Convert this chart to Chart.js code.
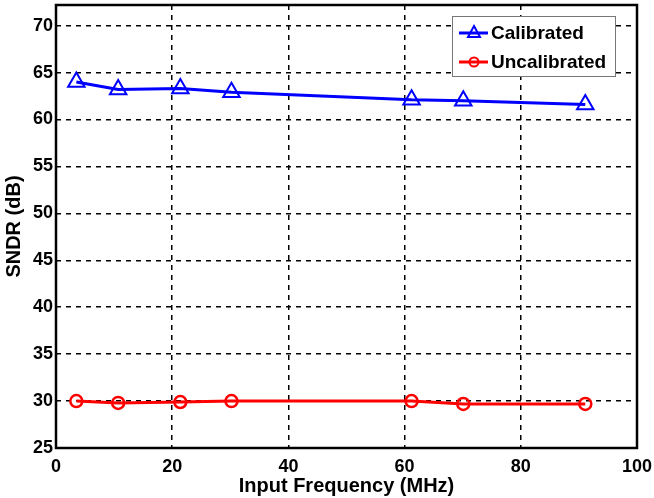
<!DOCTYPE html>
<html>
<head>
<meta charset="utf-8">
<script src="https://cdn.jsdelivr.net/npm/chart.js@4/dist/chart.umd.min.js"></script>
<style>
  html, body { margin: 0; padding: 0; background: #fff; }
  #wrap { width: 654px; height: 498px; }
</style>
</head>
<body>
<div id="wrap"><canvas id="sndr-chart" width="654" height="498"></canvas></div>
<script>
// SNDR vs input frequency, calibrated vs uncalibrated

const freqCal   = [3.5, 10.7, 21.4, 30.2, 61.2, 70.1, 91.1];
const sndrCal   = [64.0, 63.2, 63.3, 62.9, 62.1, 62.0, 61.6];
const freqUncal = [3.5, 10.7, 21.4, 30.2, 61.2, 70.1, 91.1];
const sndrUncal = [30.0, 29.8, 29.9, 30.0, 30.0, 29.7, 29.7];

const xTicks = [0, 20, 40, 60, 80, 100];
const yTicks = [25, 30, 35, 40, 45, 50, 55, 60, 65, 70];

const FONT = "'Liberation Sans', Arial, Helvetica, sans-serif";

// black frame round the plot area (matlab style box)
const boxPlugin = {
  id: "box",
  afterDraw(chart) {
    const { ctx, chartArea: a } = chart;
    ctx.save();
    ctx.strokeStyle = "#000";
    ctx.lineWidth = 2.5;
    ctx.strokeRect(a.left, a.top, a.right - a.left, a.bottom - a.top);
    ctx.restore();
  }
};

// legend drawn inside the axes, top right
const legendPlugin = {
  id: "innerLegend",
  afterDraw(chart) {
    const ctx = chart.ctx;
    const x0 = 452, y0 = 16, w = 163, h = 60;
    ctx.save();
    ctx.fillStyle = "#fff";
    ctx.fillRect(x0, y0, w, h);
    ctx.strokeStyle = "#777";
    ctx.lineWidth = 1;
    ctx.strokeRect(x0 + 0.5, y0 + 0.5, w, h);

    chart.data.datasets.forEach((ds, i) => {
      const y = y0 + 17 + i * 29;
      ctx.strokeStyle = ds.borderColor;
      ctx.lineWidth = 3;
      ctx.beginPath();
      ctx.moveTo(x0 + 7, y);
      ctx.lineTo(x0 + 36, y);
      ctx.stroke();
      ctx.lineWidth = 2;
      ctx.beginPath();
      if (ds.pointStyle === "triangle") {
        ctx.moveTo(x0 + 22, y - 7);
        ctx.lineTo(x0 + 28, y + 4);
        ctx.lineTo(x0 + 16, y + 4);
        ctx.closePath();
      } else {
        ctx.arc(x0 + 22, y, 4.5, 0, Math.PI * 2);
      }
      ctx.stroke();
      ctx.fillStyle = "#000";
      ctx.font = "bold 19px " + FONT;
      ctx.textBaseline = "middle";
      ctx.fillText(ds.label, x0 + 39, y + 1);
    });
    ctx.restore();
  }
};

const ctx = document.getElementById("sndr-chart").getContext("2d");
const chart = new Chart(ctx, {
  type: "line",
  data: {
    datasets: [
      {
        label: "Calibrated",
        data: freqCal.map((f, i) => ({ x: f, y: sndrCal[i] })),
        borderColor: "#0000ff",
        backgroundColor: "rgba(0,0,0,0)",
        borderWidth: 3,
        pointStyle: "triangle",
        pointRadius: 9.5,
        pointBorderWidth: 2,
        tension: 0
      },
      {
        label: "Uncalibrated",
        data: freqUncal.map((f, i) => ({ x: f, y: sndrUncal[i] })),
        borderColor: "#ff0000",
        backgroundColor: "rgba(0,0,0,0)",
        borderWidth: 3,
        pointStyle: "circle",
        pointRadius: 6,
        pointBorderWidth: 2.5,
        tension: 0
      }
    ]
  },
  options: {
    responsive: false,
    animation: false,
    layout: { autoPadding: false, padding: { top: 5, right: 17, left: 0, bottom: 0 } },
    scales: {
      x: {
        type: "linear",
        min: 0,
        max: 100,
        afterBuildTicks: s => { s.ticks = xTicks.map(v => ({ value: v })); },
        afterFit: s => { s.height = 50; s.paddingLeft = 0; s.paddingRight = 0; },
        grid: { color: "#000", lineWidth: 1.5, drawTicks: false },
        border: { display: false, dash: [5, 5] },
        ticks: {
          color: "#000",
          padding: 8,
          maxRotation: 0,
          font: { family: FONT, size: 18, weight: "bold" }
        },
        title: {
          display: true,
          text: "Input Frequency (MHz)",
          color: "#000",
          padding: { top: 0, bottom: 0 },
          font: { family: FONT, size: 20, weight: "bold" }
        }
      },
      y: {
        type: "linear",
        min: 25,
        max: 72.2,
        afterBuildTicks: s => { s.ticks = yTicks.map(v => ({ value: v })); },
        afterFit: s => { s.width = 56; s.paddingTop = 0; s.paddingBottom = 0; },
        grid: { color: "#000", lineWidth: 1.5, drawTicks: false },
        border: { display: false, dash: [5, 5] },
        ticks: {
          color: "#000",
          padding: 3,
          font: { family: FONT, size: 18, weight: "bold" }
        },
        title: {
          display: true,
          text: "SNDR (dB)",
          color: "#000",
          padding: { top: 2.5, bottom: 0 },
          font: { family: FONT, size: 20, weight: "bold" }
        }
      }
    },
    plugins: { legend: { display: false }, tooltip: { enabled: false } }
  },
  plugins: [boxPlugin, legendPlugin]
});
</script>
</body>
</html>
